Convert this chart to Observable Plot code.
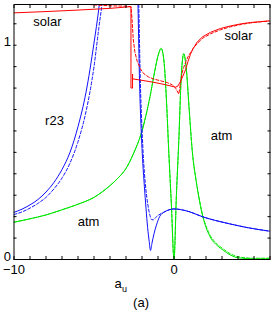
<!DOCTYPE html>
<html>
<head>
<meta charset="utf-8">
<script src="https://cdn.jsdelivr.net/npm/d3@7"></script>
<script src="https://cdn.jsdelivr.net/npm/@observablehq/plot@0.6"></script>
<style>
  html, body { margin: 0; padding: 0; background: white; color: black; }
  #chart { width: 273px; height: 317px; }
</style>
</head>
<body>
<div id="chart"></div>
<script>
// ---- r23 (blue) ----
const r23SolidLeftX  = [-10, -9.5, -9, -8.5, -8, -7.5, -7, -6.5, -6, -5.5, -5, -4.7, -4.5];
const r23SolidLeftY  = [0.22, 0.235, 0.255, 0.28, 0.315, 0.36, 0.42, 0.5, 0.62, 0.78, 1.01, 1.17, 1.3];
const r23DashLeftX   = [-10, -9.5, -9, -8.5, -8, -7.5, -7, -6.5, -6, -5.5, -5, -4.7, -4.4, -4.2];
const r23DashLeftY   = [0.21, 0.222, 0.24, 0.262, 0.29, 0.33, 0.38, 0.45, 0.55, 0.69, 0.9, 1.08, 1.25, 1.4];
const r23SolidRightX = [-2.3, -2.25, -2.15, -2.05, -1.95, -1.85, -1.75, -1.65, -1.55, -1.47, -1.38, -1.25, -1.1, -0.9, -0.6, -0.3, 0, 0.4, 1.0, 1.8, 2.6, 3.5, 4.5, 6];
const r23SolidRightY = [1.4, 1.19, 0.82, 0.6, 0.45, 0.34, 0.24, 0.15, 0.085, 0.042, 0.075, 0.12, 0.16, 0.2, 0.222, 0.232, 0.236, 0.233, 0.222, 0.199, 0.182, 0.166, 0.15, 0.132];
const r23DashRightX  = [-2.25, -2.2, -2.1, -2.0, -1.9, -1.8, -1.7, -1.6, -1.5, -1.4, -1.3, -1.15, -0.95, -0.8, -0.6, -0.3, 0, 0.4, 1.0, 1.8, 2.6, 3.5, 4.5, 6];
const r23DashRightY  = [1.4, 1.19, 0.82, 0.61, 0.46, 0.36, 0.29, 0.24, 0.205, 0.186, 0.185, 0.196, 0.208, 0.215, 0.222, 0.232, 0.236, 0.233, 0.222, 0.199, 0.182, 0.166, 0.15, 0.132];

// ---- solar (red) ----
const solarSolidX = [-10, -8, -6, -4, -2.69, -2.69, -2.59, -2.59, -2.59, -2, -1.5, -1, -0.5, 0, 0.1, 0.25, 0.4, 0.55, 0.72, 0.88, 1.03, 1.2, 1.45, 1.8, 2.28, 2.9, 3.53, 4.2, 4.78, 5.4, 6];
const solarSolidY = [1.151, 1.157, 1.164, 1.172, 1.18, 0.80, 0.80, 0.865, 0.843, 0.836, 0.83, 0.823, 0.815, 0.806, 0.804, 0.81, 0.83, 0.855, 0.885, 0.925, 0.958, 0.985, 1.015, 1.04, 1.06, 1.078, 1.09, 1.1, 1.106, 1.11, 1.114];
const solarDashX  = [-10, -6, -5, -4, -3, -2.69, -2.62, -2.55, -2.45, -2.3, -2.1, -1.9, -1.6, -1.26, -0.84, -0.4, -0.1, 0.1, 0.3, 0.42, 0.52, 0.61, 0.75, 0.9, 1.03, 1.2, 1.45, 1.8, 2.28, 2.9, 3.53, 4.2, 4.78, 5.4, 6];
const solarDashY  = [1.21, 1.195, 1.188, 1.184, 1.182, 1.18, 1.12, 1.03, 0.97, 0.925, 0.89, 0.868, 0.852, 0.842, 0.834, 0.825, 0.815, 0.80, 0.772, 0.83, 0.875, 0.897, 0.925, 0.95, 0.965, 0.985, 1.008, 1.033, 1.053, 1.072, 1.086, 1.097, 1.104, 1.109, 1.113];

// ---- atm (green) ----
const atmX      = [-10, -9, -8, -7, -6, -5, -4, -3.5, -3, -2.5, -2, -1.5, -1.2, -1.0, -0.8, -0.62, -0.47, -0.33, -0.16, 0, 0.15, 0.3, 0.45, 0.61, 0.78, 0.95, 1.14, 1.4, 1.6, 1.8, 2.0, 2.3, 2.7, 3.1, 3.5, 4.0, 5.0, 6.0];
const atmSolidY = [0.174, 0.19, 0.208, 0.232, 0.258, 0.29, 0.345, 0.38, 0.425, 0.5, 0.6, 0.76, 0.88, 0.95, 0.985, 0.92, 0.74, 0.508, 0.25, 0.0, 0.3, 0.555, 0.85, 0.96, 0.88, 0.7, 0.508, 0.36, 0.27, 0.2, 0.15, 0.10, 0.065, 0.042, 0.022, 0.008, 0.003, 0.003];
const atmDashY  = [0.174, 0.19, 0.208, 0.232, 0.258, 0.29, 0.345, 0.38, 0.425, 0.5, 0.6, 0.76, 0.88, 0.95, 0.985, 0.92, 0.74, 0.508, 0.25, 0.0, 0.3, 0.555, 0.85, 0.96, 0.88, 0.7, 0.508, 0.36, 0.275, 0.205, 0.157, 0.108, 0.072, 0.048, 0.028, 0.013, 0.006, 0.006];

// ---- text ----
const labelText = ["solar", "solar", "r23", "atm", "atm"];
const labelX    = [-7.91, 4.03, -7.47, 2.97, -5.34];
const labelY    = [1.11, 1.044, 0.648, 0.578, 0.174];
const xTickLabels = [-10, 0];
const yTickLabels = [0, 1];
const xTicks = d3.range(-10, 7, 1);
const yTicks = d3.range(0, 1.2, 0.1);
const xTitle = "a", xTitleSub = "u", panelTag = "(a)";

const rows = (xs, ys, key) => xs.map((x, i) => ({x, y: ys[i], key}));

const blueSolid = [...rows(r23SolidLeftX, r23SolidLeftY, "L"), ...rows(r23SolidRightX, r23SolidRightY, "R")];
const blueDash  = [...rows(r23DashLeftX, r23DashLeftY, "L"), ...rows(r23DashRightX, r23DashRightY, "R")];
const redSolid  = rows(solarSolidX, solarSolidY, "s");
const redDash   = rows(solarDashX, solarDashY, "d");
const greenSolid = rows(atmX, atmSolidY, "s");
const greenDash  = rows(atmX, atmDashY, "d");
const labels = labelText.map((t, i) => ({t, x: labelX[i], y: labelY[i]}));

const blue = "#1010ff", red = "#ff0000", green = "#00e600";
const dash = "3,2";
const intFmt = d => (d < 0 ? "\u2212" : "") + Math.abs(d);

const chart = Plot.plot({
  width: 273,
  height: 317,
  marginLeft: 13.5,
  marginRight: 3.5,
  marginTop: 4,
  marginBottom: 58,
  style: {fontFamily: "'Liberation Sans', Arial, Helvetica, sans-serif", fontSize: "13px", background: "white", color: "black"},
  x: {domain: [-10, 6]},
  y: {domain: [0, 1.19]},
  marks: [
    Plot.line(greenSolid, {x: "x", y: "y", z: "key", stroke: green, strokeWidth: 1, curve: "monotone-x", clip: true}),
    Plot.line(greenDash, {x: "x", y: "y", z: "key", stroke: green, strokeWidth: 1, strokeDasharray: dash, curve: "monotone-x", clip: true}),
    Plot.line(blueSolid, {x: "x", y: "y", z: "key", stroke: blue, strokeWidth: 1, curve: "monotone-x", clip: true}),
    Plot.line(blueDash, {x: "x", y: "y", z: "key", stroke: blue, strokeWidth: 1, strokeDasharray: dash, curve: "monotone-x", clip: true}),
    Plot.line(redSolid, {x: "x", y: "y", z: "key", stroke: red, strokeWidth: 1, curve: "linear", clip: true}),
    Plot.line(redDash, {x: "x", y: "y", z: "key", stroke: red, strokeWidth: 1, strokeDasharray: dash, curve: "linear", clip: true}),
    Plot.frame({stroke: "black", strokeWidth: 1}),
    Plot.axisX({anchor: "bottom", ticks: xTicks, tickSize: -3, fill: "none", label: null}),
    Plot.axisX({anchor: "top", ticks: xTicks, tickSize: -3, fill: "none", label: null}),
    Plot.axisY({anchor: "left", ticks: yTicks, tickSize: -3, fill: "none", label: null}),
    Plot.axisY({anchor: "right", ticks: yTicks, tickSize: -3, fill: "none", label: null}),
    Plot.axisX({anchor: "bottom", ticks: xTickLabels, tickFormat: intFmt, tickSize: 0, tickPadding: 5, fontSize: 13, label: null}),
    Plot.axisY({anchor: "left", ticks: yTickLabels, tickFormat: intFmt, tickSize: 0, tickPadding: 3, dy: -3, fontSize: 13, label: null}),
    Plot.text(labels, {x: "x", y: "y", text: "t", fontSize: 13, fill: "black"}),
    Plot.text([xTitle], {x: [-3.5], text: d => d, frameAnchor: "bottom", dy: 28, fontSize: 13, fill: "black"}),
    Plot.text([xTitleSub], {x: [-3.1], text: d => d, frameAnchor: "bottom", dy: 32, fontSize: 9, fill: "black"}),
    Plot.text([panelTag], {x: [-2.06], text: d => d, frameAnchor: "bottom", dy: 47, fontSize: 13, fill: "black"})
  ]
});
document.getElementById("chart").appendChild(chart);
</script>
</body>
</html>
